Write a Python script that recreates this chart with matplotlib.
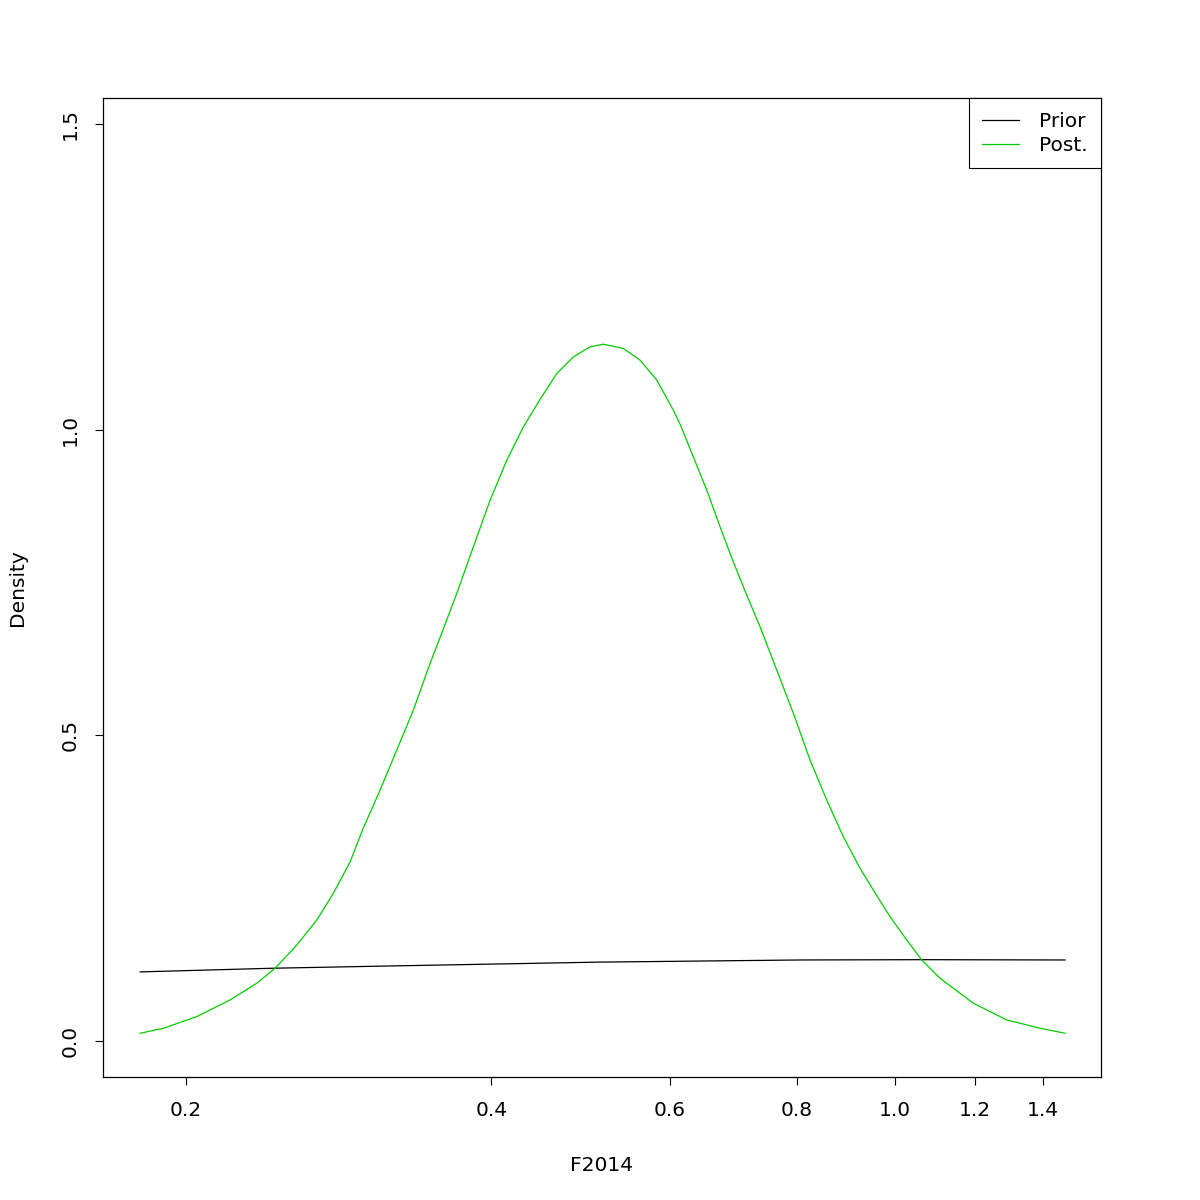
import matplotlib
matplotlib.use("Agg")
import matplotlib.pyplot as plt
from matplotlib.ticker import FixedLocator, FixedFormatter, NullLocator

# values (x on a log axis)
post_x = [0.1802, 0.1900, 0.2049, 0.2210, 0.2348, 0.2448, 0.2572, 0.2691, 0.2794,
          0.2902, 0.2991, 0.3107, 0.3227, 0.3351, 0.3481, 0.3574, 0.3698, 0.3840,
          0.3989, 0.4143, 0.4302, 0.4468, 0.4641, 0.4819, 0.5005, 0.5159, 0.5398,
          0.5607, 0.5824, 0.6047, 0.6140, 0.6328, 0.6524, 0.6724, 0.6930, 0.7144,
          0.7363, 0.7648, 0.7942, 0.8248, 0.8567, 0.8896, 0.9240, 0.9523, 0.9891,
          1.0274, 1.0630, 1.1081, 1.1951, 1.2892, 1.3905, 1.4717]
post_y = [0.0126, 0.0208, 0.0398, 0.0671, 0.0944, 0.1189, 0.1570, 0.1979, 0.2416,
          0.2928, 0.3484, 0.4106, 0.4760, 0.5415, 0.6179, 0.6674, 0.7324, 0.8086,
          0.8850, 0.9504, 1.0049, 1.0499, 1.0923, 1.1194, 1.1358, 1.1402, 1.1332,
          1.1140, 1.0813, 1.0322, 1.0093, 0.9559, 0.9014, 0.8413, 0.7836, 0.7296,
          0.6778, 0.6069, 0.5361, 0.4597, 0.3942, 0.3342, 0.2825, 0.2470, 0.2033,
          0.1652, 0.1325, 0.1026, 0.0617, 0.0344, 0.0208, 0.0126]
prior_x = [0.1802, 0.2437, 0.325, 0.511, 0.806, 1.064, 1.4717]
prior_y = [0.113, 0.119, 0.123, 0.129, 0.1325, 0.133, 0.1325]

xticks = [0.2, 0.4, 0.6, 0.8, 1.0, 1.2, 1.4]
xtick_labels = ["0.2", "0.4", "0.6", "0.8", "1.0", "1.2", "1.4"]
yticks = [0.0, 0.5, 1.0, 1.5]
ytick_labels = ["0.0", "0.5", "1.0", "1.5"]

fig = plt.figure(figsize=(12, 12), dpi=100)
ax = fig.add_axes([0.0858, 0.1025, 0.8317, 0.8158])

ax.plot(prior_x, prior_y, color="black", lw=0.9, label="Prior")
ax.plot(post_x, post_y, color="#00CD00", lw=0.9, label="Post.")

ax.set_xscale("log")
ax.set_xlim(0.1656, 1.597)
ax.set_ylim(-0.059, 1.543)

ax.xaxis.set_major_locator(FixedLocator(xticks))
ax.xaxis.set_major_formatter(FixedFormatter(xtick_labels))
ax.xaxis.set_minor_locator(NullLocator())
ax.set_yticks(yticks)
ax.set_yticklabels(ytick_labels, rotation=90, va="center")

ax.tick_params(direction="out", length=6, width=0.8, labelsize=14.5, pad=11)
for s in ax.spines.values():
    s.set_linewidth(0.9)

ax.set_xlabel("F2014", fontsize=14.5, labelpad=26)
ax.set_ylabel("Density", fontsize=14.5, labelpad=24)

leg = ax.legend(loc="upper right", borderaxespad=0, fancybox=False,
                edgecolor="black", framealpha=1, fontsize=14.5,
                handlelength=1.8, handletextpad=1.0, borderpad=0.68,
                labelspacing=0.25)
leg.get_frame().set_linewidth(0.8)

fig.savefig("out.png", dpi=100)
